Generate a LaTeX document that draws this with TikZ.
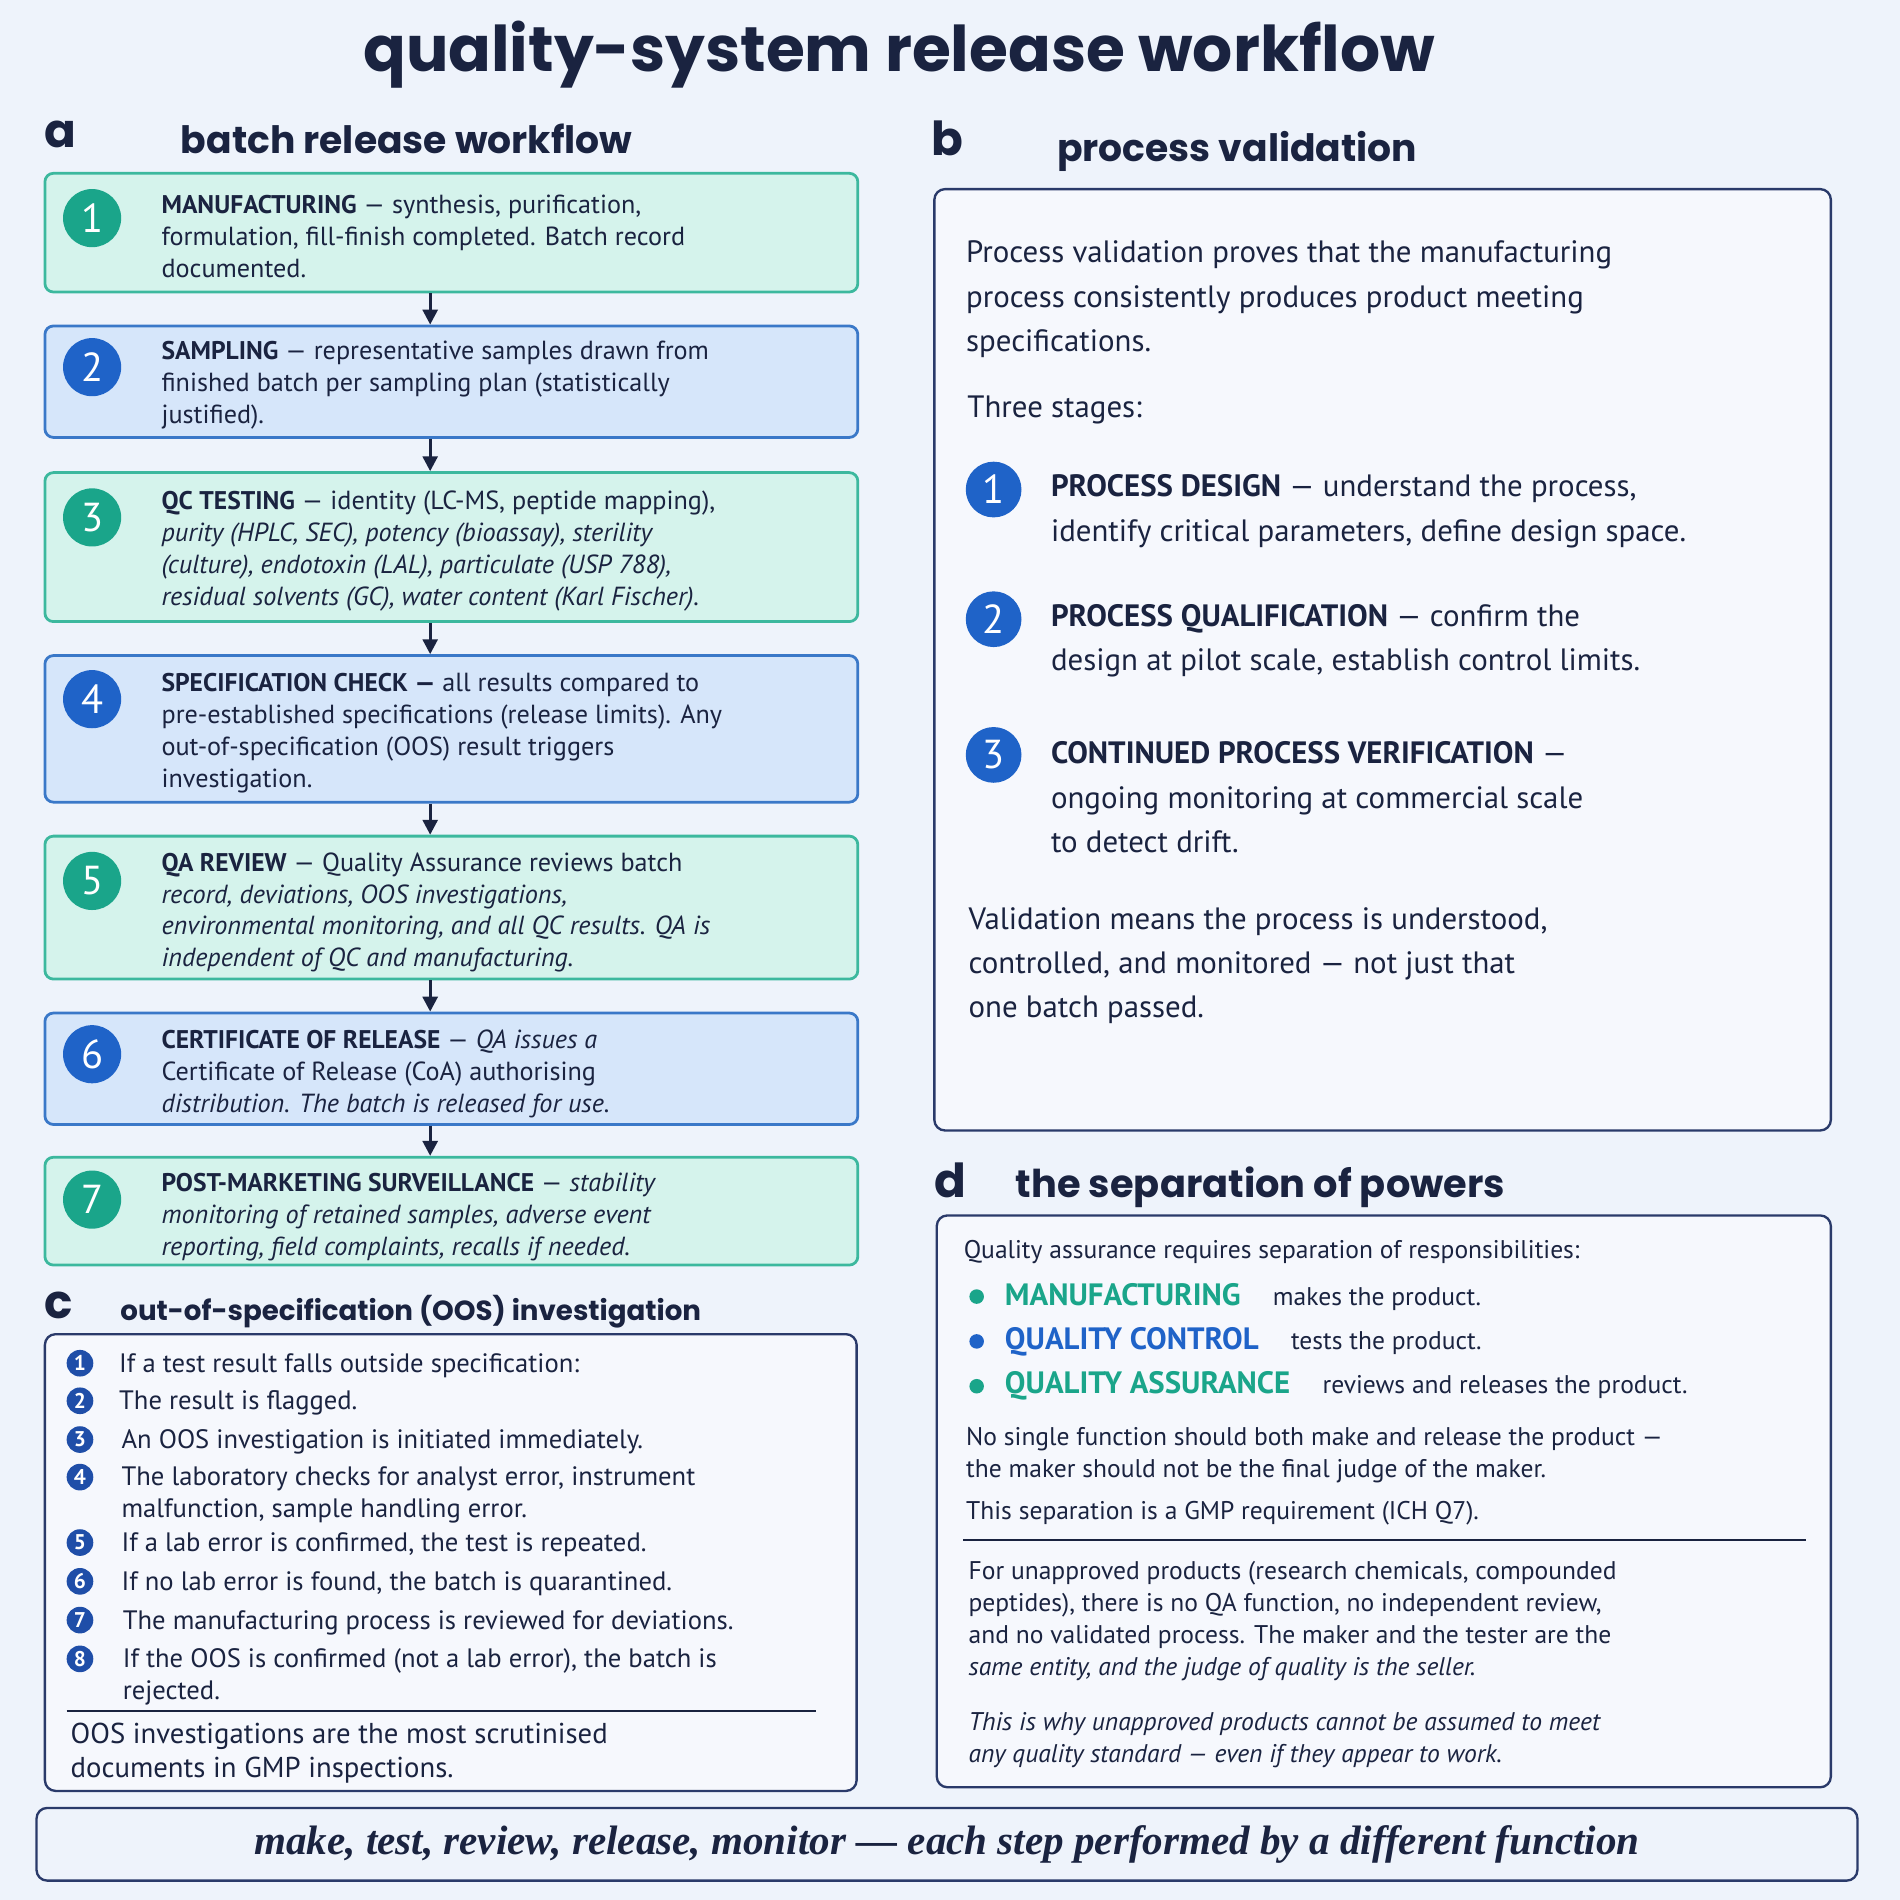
\documentclass[tikz,border=0pt]{standalone}
\usepackage{fontspec}
\setmainfont{PT Sans}
\newfontfamily\headfont{Poppins}
\newfontfamily\bannerfont{Liberation Serif}
\usetikzlibrary{arrows.meta}

\definecolor{navy}{HTML}{1A2340}
\definecolor{pagebg}{HTML}{EEF3FB}
\definecolor{greenfill}{HTML}{D5F3EC}
\definecolor{greenline}{HTML}{3CB89E}
\definecolor{greendot}{HTML}{1AA58A}
\definecolor{bluefill}{HTML}{D6E6FA}
\definecolor{blueline}{HTML}{3A78C8}
\definecolor{bluedot}{HTML}{1F63C8}
\definecolor{paneline}{HTML}{2A3A6A}
\definecolor{panefill}{HTML}{F6F8FD}
\definecolor{ooscirc}{HTML}{1F4EA8}

\tikzset{
  stepG/.style={draw=greenline,fill=greenfill,line width=1.3pt,rounded corners=4pt},
  stepB/.style={draw=blueline,fill=bluefill,line width=1.3pt,rounded corners=4pt},
  numG/.style={circle,fill=greendot,text=white,minimum size=0.96cm,inner sep=0,font=\fontsize{19}{19}\selectfont},
  numB/.style={circle,fill=bluedot,text=white,minimum size=0.96cm,inner sep=0,font=\fontsize{19}{19}\selectfont},
  oosnum/.style={circle,fill=ooscirc,text=white,minimum size=0.44cm,inner sep=0,font=\fontsize{10}{10}\selectfont\bfseries},
  pane/.style={draw=paneline,fill=panefill,line width=1.1pt,rounded corners=5pt},
  steptxt/.style={anchor=west,align=left,inner sep=0,text=navy,font=\fontsize{12.3}{15}\selectfont},
  btxt/.style={anchor=west,align=left,inner sep=0,text=navy,font=\fontsize{14.5}{20.8}\selectfont},
  ctxt/.style={anchor=west,align=left,inner sep=0,text=navy,font=\fontsize{12.5}{15}\selectfont},
  dtxt/.style={anchor=west,align=left,inner sep=0,text=navy,font=\fontsize{12}{15}\selectfont},
  head/.style={anchor=base west,inner sep=0,text=navy,font=\headfont\bfseries\fontsize{17.7}{17.7}\selectfont},
  letter/.style={anchor=base west,inner sep=0,text=navy,font=\headfont\bfseries\fontsize{22}{22}\selectfont},
  arr/.style={-{Triangle[length=7pt,width=7pt]},line width=1.4pt,draw=navy},
}

\begin{document}
\begin{tikzpicture}[x=0.02cm,y=-0.02cm]

\fill[pagebg] (0,0) rectangle (1568,1568);
\useasboundingbox (0,0) rectangle (1568,1568);

\node[text=navy,font=\headfont\bfseries\fontsize{29.6}{29.6}\selectfont] (title) at (742,45) {quality-system release workflow};

% panel a
\node[letter] (la) at (36,122) {a};
\node[head] (ha) at (149,127) {batch release workflow};

\node[stepG,minimum width=13.42cm,minimum height=1.96cm] (s1) at (372.5,192) {};
\node[stepB,minimum width=13.42cm,minimum height=1.84cm] (s2) at (372.5,315) {};
\node[stepG,minimum width=13.42cm,minimum height=2.46cm] (s3) at (372.5,451.5) {};
\node[stepB,minimum width=13.42cm,minimum height=2.42cm] (s4) at (372.5,601.5) {};
\node[stepG,minimum width=13.42cm,minimum height=2.36cm] (s5) at (372.5,749) {};
\node[stepB,minimum width=13.42cm,minimum height=1.84cm] (s6) at (372.5,882) {};
\node[stepG,minimum width=13.42cm,minimum height=1.78cm] (s7) at (372.5,999.5) {};

\foreach \a/\b in {s1/s2,s2/s3,s3/s4,s4/s5,s5/s6,s6/s7}
  \draw[arr] ([xshift=-0.35cm]\a.south) -- ([xshift=-0.35cm]\b.north);

\node[numG] (n1) at (76,180) {1};
\node[numB] (n2) at (76,303) {2};
\node[numG] (n3) at (76,427) {3};
\node[numB] (n4) at (76,577) {4};
\node[numG] (n5) at (76,727) {5};
\node[numB] (n6) at (76,870) {6};
\node[numG] (n7) at (76,990) {7};

\node[steptxt] (t1) at (133,195) {{\large\bfseries MANUFACTURING} --- synthesis, purification,\\formulation, fill-finish completed. Batch record\\documented.};
\node[steptxt] (t2) at (133,318) {{\large\bfseries SAMPLING} --- representative samples drawn from\\finished batch per sampling plan (statistically\\justified).};
\node[steptxt] (t3) at (133,455) {{\large\bfseries QC TESTING} --- identity (LC-MS, peptide mapping),\\\itshape purity (HPLC, SEC), potency (bioassay), sterility\\\itshape (culture), endotoxin (LAL), particulate (USP 788),\\\itshape residual solvents (GC), water content (Karl Fischer).};
\node[steptxt] (t4) at (133,605) {{\large\bfseries SPECIFICATION CHECK ---} all results compared to\\pre-established specifications (release limits). Any\\out-of-specification (OOS) result triggers\\investigation.};
\node[steptxt] (t5) at (133,753) {{\large\bfseries QA REVIEW} --- Quality Assurance reviews batch\\\itshape record, deviations, OOS investigations,\\\itshape environmental monitoring, and all QC results. QA is\\\itshape independent of QC and manufacturing.};
\node[steptxt] (t6) at (133,886) {{\large\bfseries CERTIFICATE OF RELEASE} --- \textit{QA issues a}\\Certificate of Release (CoA) authorising\\\itshape distribution. The batch is released for use.};
\node[steptxt] (t7) at (133,1004) {{\large\bfseries POST-MARKETING SURVEILLANCE} --- \textit{stability}\\\itshape monitoring of retained samples, adverse event\\\itshape reporting, field complaints, recalls if needed.};

% panel b
\node[letter] (lb) at (768,128) {b};
\node[head] (hb) at (872,133) {process validation};
\node[pane,minimum width=14.8cm,minimum height=15.54cm] (pb) at (1141,544.5) {};
\node[btxt] (b1) at (797,247) {Process validation proves that the manufacturing\\process consistently produces product meeting\\specifications.};
\node[btxt] (b2) at (798,338) {Three stages:};
\node[numB,minimum size=0.92cm] (v1) at (820,404) {1};
\node[numB,minimum size=0.92cm] (v2) at (820,511) {2};
\node[numB,minimum size=0.92cm] (v3) at (820,623) {3};
\node[btxt] (b3) at (867,422) {{\bfseries PROCESS DESIGN} --- understand the process,\\identify critical parameters, define design space.};
\node[btxt] (b4) at (867,529) {{\bfseries PROCESS QUALIFICATION} --- confirm the\\design at pilot scale, establish control limits.};
\node[btxt] (b5) at (867,658) {{\bfseries CONTINUED PROCESS VERIFICATION} ---\\ongoing monitoring at commercial scale\\to detect drift.};
\node[btxt] (b6) at (799,797) {Validation means the process is understood,\\controlled, and monitored --- not just that\\one batch passed.};

% panel c
\node[letter] (lc) at (36,1088) {c};
\node[head,font=\headfont\bfseries\fontsize{13}{13}\selectfont] (hc) at (99,1090) {out-of-specification (OOS) investigation};
\node[pane,minimum width=13.4cm,minimum height=7.54cm] (pc) at (372,1289.5) {};
\foreach \i/\y in {1/1125,2/1156,3/1188,4/1219,5/1273,6/1305,7/1337,8/1369}
  \node[oosnum] (c\i) at (66,\y) {\i};
\node[ctxt] (ct1) at (98,1127) {If a test result falls outside specification:};
\node[ctxt] (ct2) at (98,1158) {The result is flagged.};
\node[ctxt] (ct3) at (100,1190) {An OOS investigation is initiated immediately.};
\node[ctxt] (ct4) at (100,1234) {The laboratory checks for analyst error, instrument\\malfunction, sample handling error.};
\node[ctxt] (ct5) at (100,1275) {If a lab error is confirmed, the test is repeated.};
\node[ctxt] (ct6) at (100,1307) {If no lab error is found, the batch is quarantined.};
\node[ctxt] (ct7) at (101,1339) {The manufacturing process is reviewed for deviations.};
\node[ctxt] (ct8) at (101,1384) {If the OOS is confirmed (not a lab error), the batch is\\rejected.};
\coordinate (cl1) at (55,1412);
\coordinate (cl2) at (673,1412);
\draw[navy,line width=0.9pt] (cl1) -- (cl2);
\node[ctxt,font=\fontsize{13.5}{16}\selectfont] (ct9) at (58,1447) {OOS investigations are the most scrutinised\\documents in GMP inspections.};

% panel d
\node[letter] (ld) at (771,988) {d};
\node[head,font=\headfont\bfseries\fontsize{18}{18}\selectfont] (hd) at (838,988) {the separation of powers};
\node[pane,minimum width=14.76cm,minimum height=9.44cm] (pd) at (1142,1239) {};
\node[dtxt] (d1) at (795,1033) {Quality assurance requires separation of responsibilities:};
\fill[greendot] (806,1070) circle (6);
\fill[bluedot] (806,1107) circle (6);
\fill[greendot] (806,1144) circle (6);
\node[dtxt] (d2) at (829,1070) {\textcolor{greendot}{\fontsize{14.5}{15}\selectfont\bfseries MANUFACTURING}\quad\ makes the product.};
\node[dtxt] (d3) at (829,1107) {\textcolor{bluedot}{\fontsize{14.5}{15}\selectfont\bfseries QUALITY CONTROL}\quad\ tests the product.};
\node[dtxt] (d4) at (829,1144) {\textcolor{greendot}{\fontsize{14.5}{15}\selectfont\bfseries QUALITY ASSURANCE}\quad\ reviews and releases the product.};
\node[dtxt] (d5) at (797,1201) {No single function should both make and release the product ---\\the maker should not be the final judge of the maker.};
\node[dtxt] (d6) at (797,1249) {This separation is a GMP requirement (ICH Q7).};
\coordinate (dl1) at (795,1271);
\coordinate (dl2) at (1490,1271);
\draw[navy,line width=0.9pt] (dl1) -- (dl2);
\node[dtxt] (d7) at (799,1338) {For unapproved products (research chemicals, compounded\\peptides), there is no QA function, no independent review,\\and no validated process. The maker and the tester are the\\\itshape same entity, and the judge of quality is the seller.};
\node[dtxt] (d8) at (799,1436) {\itshape This is why unapproved products cannot be assumed to meet\\\itshape any quality standard --- even if they appear to work.};

% banner
\node[pane,fill=pagebg,minimum width=30.06cm,minimum height=1.2cm] (bn) at (781.5,1522) {};
\node[text=navy,font=\bannerfont\bfseries\itshape\fontsize{19.3}{19.3}\selectfont] (bt) at (781.5,1522) {make, test, review, release, monitor \textemdash{} each step performed by a different function};

\end{tikzpicture}
\end{document}
